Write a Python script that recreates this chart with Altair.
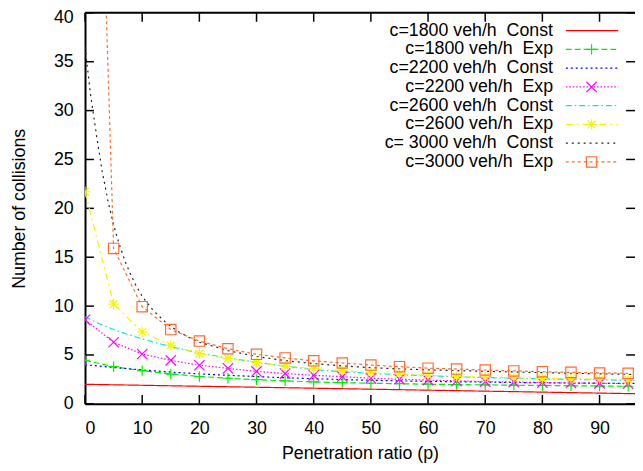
import altair as alt
import pandas as pd

# ---------------- data ----------------
series_names = [
    "c=1800 veh/h  Const", "c=1800 veh/h  Exp",
    "c=2200 veh/h  Const", "c=2200 veh/h  Exp",
    "c=2600 veh/h  Const", "c=2600 veh/h  Exp",
    "c= 3000 veh/h  Const", "c=3000 veh/h  Exp",
]
series_colors = ["#ff0000", "#00ee00", "#0000ff", "#ff00ff",
                 "#00e5e5", "#f5f500", "#222222", "#ff6a30"]
series_dashes = [[1, 0], [6, 3], [2, 3], [1.5, 2],
                 [6, 3, 1.5, 3], [7, 4, 2, 4], [2, 4], [3, 3]]

p_exp = [0, 5, 10, 15, 20, 25, 30, 35, 40, 45, 50, 55, 60, 65, 70, 75, 80, 85, 90, 95]
exp_1800 = [4.46, 3.8, 3.4, 3.05, 2.8, 2.62, 2.47, 2.35, 2.25, 2.17, 2.11, 2.06, 2.01, 1.97, 1.94, 1.91, 1.88, 1.85, 1.82, 1.8]
exp_2200 = [8.6, 6.3, 5.1, 4.45, 3.95, 3.63, 3.32, 3.1, 2.92, 2.78, 2.62, 2.52, 2.43, 2.35, 2.28, 2.23, 2.18, 2.14, 2.1, 2.07]
exp_2600 = [21.7, 10.2, 7.35, 5.98, 5.14, 4.63, 4.22, 3.88, 3.6, 3.4, 3.2, 3.05, 2.92, 2.82, 2.74, 2.67, 2.61, 2.56, 2.52, 2.48]
exp_3000 = [110, 15.9, 9.94, 7.6, 6.42, 5.64, 5.07, 4.7, 4.4, 4.18, 3.97, 3.8, 3.65, 3.56, 3.46, 3.37, 3.29, 3.22, 3.16, 3.12]

p_c1800 = [0, 20, 40, 60, 80, 100]
const_1800 = [2.0, 1.8, 1.6, 1.4, 1.2, 1.0]

p_c_mid = [0, 2.5, 5, 7.5, 10, 15, 20, 25, 30, 35, 40, 45, 50, 55, 60, 65, 70, 75, 80, 85, 90, 95, 100]
const_2200 = [4.0, 3.86, 3.72, 3.59, 3.47, 3.25, 3.07, 2.92, 2.79, 2.67, 2.57, 2.48, 2.41, 2.35, 2.3, 2.26, 2.22, 2.19, 2.16, 2.13, 2.11, 2.09, 2.07]
const_2600 = [8.9, 8.2, 7.6, 7.1, 6.65, 5.85, 5.2, 4.7, 4.25, 3.85, 3.5, 3.28, 3.12, 2.98, 2.87, 2.77, 2.69, 2.62, 2.56, 2.51, 2.46, 2.42, 2.38]

p_c3000 = [0, 1, 2, 3, 4, 5, 6, 7, 8, 9, 10, 12, 14, 16, 18, 20, 25, 30, 35, 40, 45, 50, 55, 60, 65, 70, 75, 80, 85, 90, 95, 100]
const_3000 = [36.5, 31.5, 27.5, 23.8, 20.8, 18.3, 16.3, 14.6, 13.2, 12.0, 11.0, 9.5, 8.4, 7.5, 6.85, 6.3, 5.45, 4.85, 4.42, 4.12, 3.88, 3.7, 3.58, 3.48, 3.4, 3.33, 3.26, 3.19, 3.13, 3.07, 3.02, 2.97]

x_ticks = [0, 10, 20, 30, 40, 50, 60, 70, 80, 90]
y_ticks = [0, 5, 10, 15, 20, 25, 30, 35, 40]

# ---------------- build tables ----------------
curves = [
    (series_names[0], p_c1800, const_1800),
    (series_names[1], p_exp, exp_1800),
    (series_names[2], p_c_mid, const_2200),
    (series_names[3], p_exp, exp_2200),
    (series_names[4], p_c_mid, const_2600),
    (series_names[5], p_exp, exp_2600),
    (series_names[6], p_c3000, const_3000),
    (series_names[7], p_exp, exp_3000),
]
rows = []
for name, xs, ys in curves:
    for xv, yv in zip(xs, ys):
        rows.append({"series": name, "p": xv, "n": yv})
df = pd.DataFrame(rows)
df_pts = df[df["series"].str.contains("Exp")]

W, H = 557, 396
plus = "M-1,0L1,0M0,-1L0,1"
xmark = "M-1,-1L1,1M-1,1L1,-1"
star = "M-1,0L1,0M0,-1L0,1M-0.75,-0.75L0.75,0.75M-0.75,0.75L0.75,-0.75"
exp_names = [series_names[i] for i in (1, 3, 5, 7)]
exp_shapes = [plus, xmark, star, "square"]

color_enc = alt.Color("series:N", scale=alt.Scale(domain=series_names, range=series_colors), legend=None)
dash_enc = alt.StrokeDash("series:N", scale=alt.Scale(domain=series_names, range=series_dashes), legend=None)
shape_enc = alt.Shape("series:N", scale=alt.Scale(domain=exp_names, range=exp_shapes), legend=None)

xscale = alt.Scale(domain=[0, 96.2], nice=False, zero=False)
yscale = alt.Scale(domain=[0, 40], nice=False)

x_enc = alt.X("p:Q", scale=xscale, axis=alt.Axis(
    values=x_ticks, ticks=False, tickSize=0, grid=False, labelPadding=16,
    domainColor="black", domainWidth=2, title="Penetration ratio (p)",
    titleY=50, titleBaseline="middle", titleFontWeight="normal"))
y_enc = alt.Y("n:Q", scale=yscale, axis=alt.Axis(
    values=y_ticks, ticks=False, tickSize=0, grid=False, labelPadding=12,
    labelOffset={"condition": {"test": "datum.value == 40", "value": 5}, "value": 0},
    domainColor="black", domainWidth=2, title="Number of collisions",
    titleX=-66, titleY=H / 2, titleBaseline="middle", titleFontWeight="normal"))

lines = alt.Chart(df).mark_line(strokeWidth=1.2, clip=True).encode(
    x=x_enc, y=y_enc, color=color_enc, strokeDash=dash_enc, detail="series:N")

points = alt.Chart(df_pts).mark_point(filled=False, size=110, strokeWidth=1.2, opacity=1, clip=True).encode(
    x=alt.X("p:Q", scale=xscale), y=alt.Y("n:Q", scale=yscale),
    color=color_enc, shape=shape_enc)

# ---- legend ----
leg = pd.DataFrame({
    "series": series_names,
    "label": [s.replace("  ", "\u00a0 ") for s in series_names],
})
leg["ly"] = [18 + 19 * i for i in range(len(series_names))]
leg["tx"] = 474
leg["lx1"] = 487
leg["lx2"] = 540
leg["mx"] = 513
leg_pts = leg[leg["series"].str.contains("Exp")]

leg_text = alt.Chart(leg).mark_text(align="right", baseline="middle", fontSize=18,
                                    font="Liberation Sans", color="black").encode(
    x=alt.X("tx:Q", scale=None, axis=None), y=alt.Y("ly:Q", scale=None, axis=None), text="label:N")
leg_rule = alt.Chart(leg).mark_rule(strokeWidth=1.2).encode(
    x=alt.X("lx1:Q", scale=None, axis=None), x2="lx2:Q", y=alt.Y("ly:Q", scale=None, axis=None),
    color=color_enc, strokeDash=dash_enc)
leg_pt = alt.Chart(leg_pts).mark_point(filled=False, size=110, strokeWidth=1.2, opacity=1).encode(
    x=alt.X("mx:Q", scale=None, axis=None), y=alt.Y("ly:Q", scale=None, axis=None),
    color=color_enc, shape=shape_enc)

# ---- inward ticks and top border ----
xt = pd.DataFrame({"t": x_ticks})
yt = pd.DataFrame({"t": y_ticks})
xt_bot = alt.Chart(xt).mark_rule(color="black", strokeWidth=1.5).encode(
    x=alt.X("t:Q", scale=xscale), y=alt.value(H - 9), y2=alt.value(H))
xt_top = alt.Chart(xt).mark_rule(color="black", strokeWidth=1.5).encode(
    x=alt.X("t:Q", scale=xscale), y=alt.value(0), y2=alt.value(9))
yt_left = alt.Chart(yt).mark_rule(color="black", strokeWidth=1.5).encode(
    y=alt.Y("t:Q", scale=yscale), x=alt.value(0), x2=alt.value(9))
yt_right = alt.Chart(yt).mark_rule(color="black", strokeWidth=1.5).encode(
    y=alt.Y("t:Q", scale=yscale), x=alt.value(W - 9), x2=alt.value(W))
top_border = alt.Chart(xt.head(1)).mark_rule(color="black", strokeWidth=2).encode(
    x=alt.value(0), x2=alt.value(W), y=alt.value(0))

chart = alt.layer(
    xt_bot, xt_top, yt_left, yt_right, top_border,
    lines, points, leg_rule, leg_pt, leg_text
).properties(
    width=W, height=H,
    autosize=alt.AutoSizeParams(type="none"),
    padding={"left": 78, "top": 2, "right": 0, "bottom": 57},
).configure_view(stroke=None).configure_axis(
    labelFont="Liberation Sans", labelFontSize=18, labelColor="black",
    titleFont="Liberation Sans", titleFontSize=18, titleColor="black",
)

chart.save("out.html", embed_options={"renderer": "svg", "actions": False})
